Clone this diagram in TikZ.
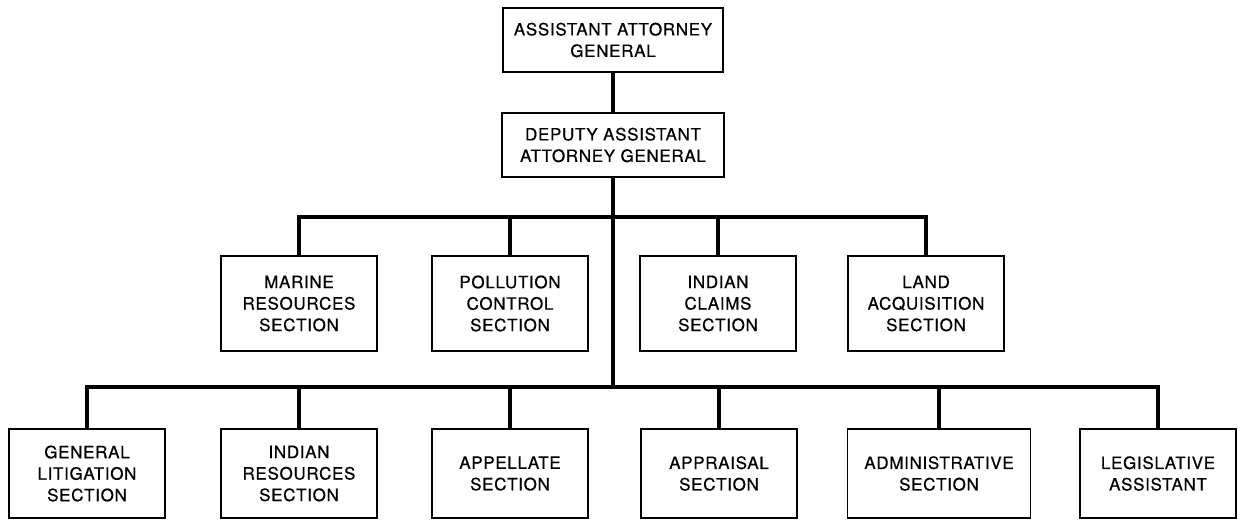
\documentclass[tikz,border=0pt]{standalone}
\usepackage{fontspec}
\setmainfont{TeX Gyre Heros}
\newfontfamily\orgfont{TeX Gyre Heros}[LetterSpace=4, FakeBold=0.6]
\usetikzlibrary{positioning}
\tikzset{
  orgbox/.style = {rectangle, draw=black, line width=1.6pt, fill=white,
                   align=center, inner sep=2pt,
                   font=\orgfont\fontsize{17}{21.5}\selectfont},
  topbox/.style = {orgbox, minimum height=64pt},
  midbox/.style = {orgbox, minimum height=95pt, minimum width=156pt},
  lowbox/.style = {orgbox, minimum height=89pt, minimum width=156pt},
  link/.style   = {draw=black, line width=4pt},
}

\begin{document}
\begin{tikzpicture}[x=1pt, y=-1pt]
  \useasboundingbox (0,0) rectangle (1238,521);
  % levels of the two bars
  \coordinate (bar1) at (0,217);
  \coordinate (bar2) at (0,387);

  % head of the division
  \node[topbox, minimum width=220pt] (aag) at (613,40) {ASSISTANT ATTORNEY\\GENERAL};
  \node[topbox, minimum width=222pt] (daag) at (613,145) {DEPUTY ASSISTANT\\ATTORNEY GENERAL};

  % sections, first row
  \foreach \nm/\x/\txt in {
      marine/299/{MARINE\\RESOURCES\\SECTION},
      pollution/510/{POLLUTION\\CONTROL\\SECTION},
      iclaims/718/{INDIAN\\CLAIMS\\SECTION},
      landacq/926/{LAND\\ACQUISITION\\SECTION}}{
    \node[midbox] (\nm) at (\x,303.5) {\txt};
  }

  % sections, second row
  \foreach \nm/\x/\txt in {
      genlit/87/{GENERAL\\LITIGATION\\SECTION},
      indres/299/{INDIAN\\RESOURCES\\SECTION},
      appellate/510/{APPELLATE\\SECTION},
      appraisal/719/{APPRAISAL\\SECTION},
      legis/1158/{LEGISLATIVE\\ASSISTANT}}{
    \node[lowbox] (\nm) at (\x,473.5) {\txt};
  }
  \node[lowbox, minimum width=183pt] (admin) at (939,473.5) {ADMINISTRATIVE\\SECTION};

  % connectors
  \draw[link] (aag.south) -- (daag.north);
  \draw[link] (daag.south) -- (daag.south |- bar2);
  \draw[link] (marine.north) -- (marine.north |- bar1) -| (landacq.north);
  \foreach \nm in {pollution, iclaims}{\draw[link] (\nm.north) -- (\nm.north |- bar1);}
  \draw[link] (genlit.north) -- (genlit.north |- bar2) -| (legis.north);
  \foreach \nm in {indres, appellate, appraisal, admin}{\draw[link] (\nm.north) -- (\nm.north |- bar2);}
\end{tikzpicture}
\end{document}
